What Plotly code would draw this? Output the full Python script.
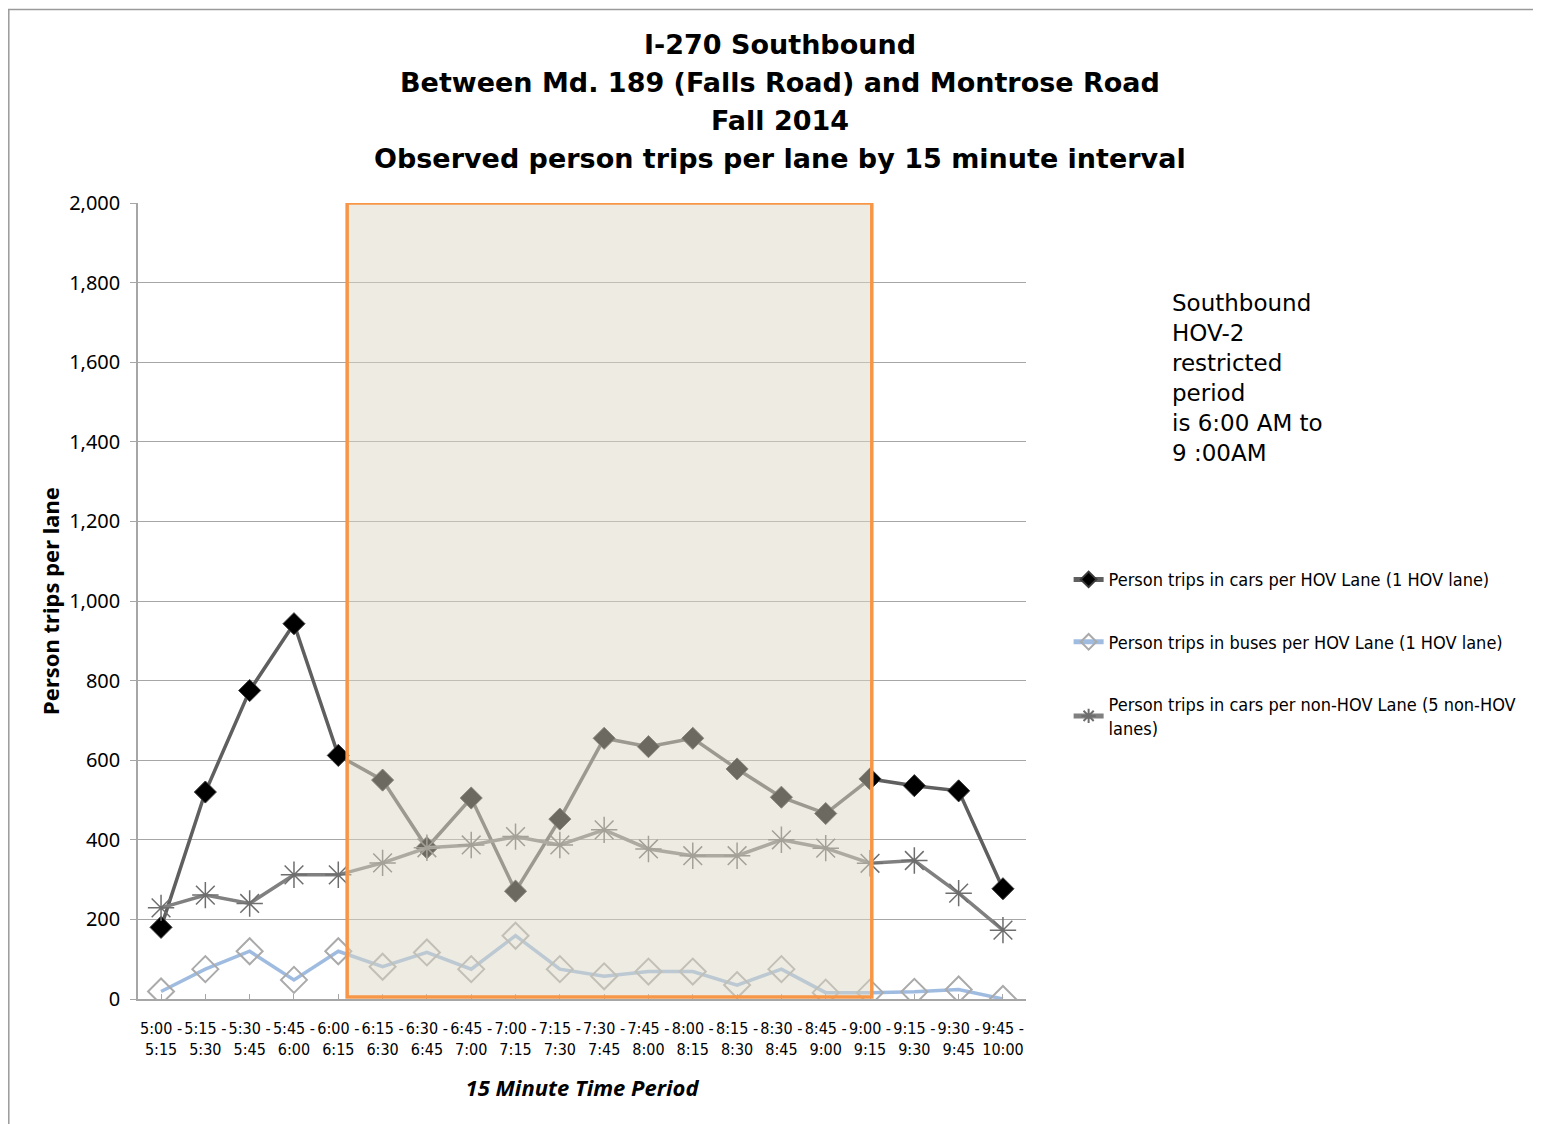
import plotly.graph_objects as go

periods = ["5:00 -<br>5:15", "5:15 -<br>5:30", "5:30 -<br>5:45", "5:45 -<br>6:00", "6:00 -<br>6:15",
           "6:15 -<br>6:30", "6:30 -<br>6:45", "6:45 -<br>7:00", "7:00 -<br>7:15", "7:15 -<br>7:30",
           "7:30 -<br>7:45", "7:45 -<br>8:00", "8:00 -<br>8:15", "8:15 -<br>8:30", "8:30 -<br>8:45",
           "8:45 -<br>9:00", "9:00 -<br>9:15", "9:15 -<br>9:30", "9:30 -<br>9:45", "9:45 -<br>10:00"]

hov_cars = [180, 520, 775, 943, 612, 550, 380, 505, 271, 452,
            655, 634, 655, 578, 507, 466, 553, 536, 523, 277]
hov_buses = [19, 75, 120, 48, 120, 81, 117, 75, 159, 75,
             57, 69, 69, 35, 75, 16, 16, 18, 24, 0]
nonhov_cars = [229, 261, 240, 312, 312, 342, 380, 387, 408, 387,
               425, 377, 360, 360, 400, 379, 341, 348, 266, 173]

title_lines = ["I-270 Southbound",
               "Between Md. 189 (Falls Road) and Montrose Road",
               "Fall 2014",
               "Observed person trips per lane by 15 minute interval"]

# HOV restricted window, in category units (6:00 AM to 9:00 AM)
hov_start, hov_end = 4.2, 16.04

idx = list(range(len(periods)))
narrow = "Liberation Sans Narrow, DejaVu Sans Condensed, Arial Narrow, sans-serif"

fig = go.Figure()
fig.add_trace(go.Scatter(
    x=idx, y=hov_cars, mode="lines+markers", legendgroup="a",
    name="Person trips in cars per HOV Lane (1 HOV lane)",
    line={"color": "#5f5f5f", "width": 3.5},
    marker={"symbol": "diamond", "size": 17, "color": "#000000", "line": {"color": "#3a3a3a", "width": 1}},
))
fig.add_trace(go.Scatter(
    x=idx, y=hov_buses, mode="lines+markers", legendgroup="b",
    name="Person trips in buses per HOV Lane (1 HOV lane)",
    line={"color": "#9fbce0", "width": 3.5},
    marker={"symbol": "diamond-open", "size": 20, "color": "#aaaaaa", "line": {"width": 2}},
))
fig.add_trace(go.Scatter(
    x=idx, y=nonhov_cars, mode="lines+markers", legendgroup="c",
    name="Person trips in cars per non-HOV Lane (5 non-HOV<br>lanes)",
    line={"color": "#808080", "width": 3.5},
    marker={"symbol": "asterisk-open", "size": 22, "color": "#6e6e6e", "line": {"width": 1.5}},
))

fig.add_shape(type="rect", xref="x", yref="y", x0=hov_start, x1=hov_end, y0=5, y1=2000,
              fillcolor="rgba(218,215,195,0.49)", line={"color": "#f79646", "width": 3.5}, layer="above")

# outer frame
fig.add_shape(type="line", xref="paper", yref="paper", x0=-0.1464, x1=1.6, y0=1.243, y1=1.243,
              line={"color": "#9a9a9a", "width": 1.5})
fig.add_shape(type="line", xref="paper", yref="paper", x0=-0.1455, x1=-0.1455, y0=-0.2, y1=1.243,
              line={"color": "#9a9a9a", "width": 1.5})

for i, line in enumerate(title_lines):
    fig.add_annotation(
        xref="paper", yref="paper", x=0.723, y=1.1997 - i * 0.0481, xanchor="center", yanchor="middle",
        showarrow=False, text=f"<b>{line}</b>",
        font={"family": "DejaVu Sans, sans-serif", "size": 27, "color": "#000000"},
    )

fig.add_annotation(
    xref="paper", yref="paper", x=1.1625, y=0.893, xanchor="left", yanchor="top", align="left",
    showarrow=False,
    text="Southbound<br>HOV-2<br>restricted<br>period<br>is 6:00 AM to<br>9 :00AM",
    font={"family": "DejaVu Sans, sans-serif", "size": 23, "color": "#000000"},
)

fig.update_layout(
    width=1541, height=1124,
    margin={"l": 130, "r": 523, "t": 195, "b": 133},
    paper_bgcolor="white", plot_bgcolor="white",
    showlegend=True,
    legend={
        "x": 1.048, "y": 0.55, "xanchor": "left", "yanchor": "top",
        "font": {"family": narrow, "size": 18, "color": "#000000"},
        "tracegroupgap": 36, "bgcolor": "rgba(0,0,0,0)", "itemsizing": "constant",
    },
    xaxis={
        "tickmode": "array", "tickvals": idx, "ticktext": periods,
        "range": [-0.52, 19.52], "showgrid": False, "zeroline": False,
        "showline": True, "linecolor": "#a6a6a6", "linewidth": 1.5,
        "ticks": "inside", "ticklen": 5, "tickcolor": "#a6a6a6",
        "ticklabelstandoff": 14, "tickangle": 0,
        "tickfont": {"family": narrow, "size": 16, "color": "#000000"},
        "title": {"text": "<i>15 Minute Time Period</i>", "standoff": 23,
                  "font": {"family": "Open Sans, sans-serif", "size": 22, "color": "#000000", "weight": "bold"}},
    },
    yaxis={
        "range": [0, 2000], "dtick": 200, "tickformat": ",d",
        "showgrid": True, "gridcolor": "#a6a6a6", "gridwidth": 1, "zeroline": False,
        "showline": True, "linecolor": "#a6a6a6", "linewidth": 1.5,
        "ticks": "outside", "ticklen": 6, "tickcolor": "#a6a6a6",
        "ticklabelstandoff": 6,
        "tickfont": {"family": "Noto Sans, sans-serif", "size": 20, "color": "#000000"},
        "title": {"text": "Person trips per lane", "standoff": 3,
                  "font": {"family": "Noto Sans, sans-serif", "size": 22, "color": "#000000", "weight": "bold"}},
    },
)

fig.write_html("out.html")
